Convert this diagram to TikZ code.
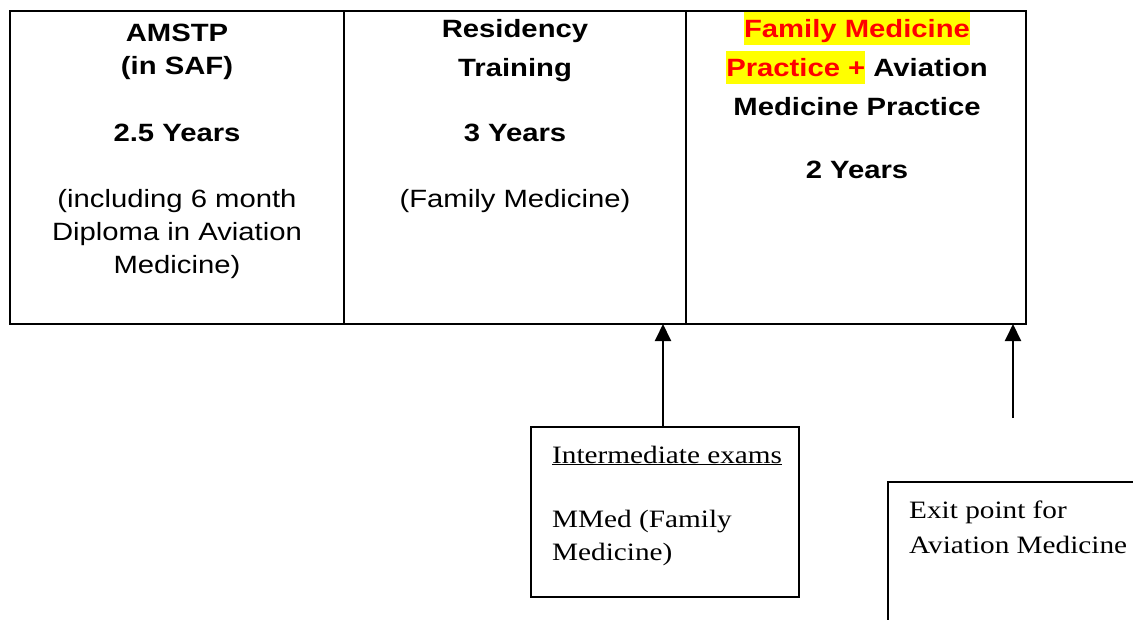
\documentclass[tikz,border=0pt]{standalone}
\usepackage{fontspec}
\setmainfont{Liberation Sans}[FakeStretch=1.17]
\newfontfamily\notefont{Liberation Serif}[FakeStretch=1.17]
\usetikzlibrary{arrows.meta}
\definecolor{hlyellow}{rgb}{1,1,0}
\definecolor{hlred}{rgb}{1,0,0}
\newlength{\du}
\setlength{\du}{1pt}
\newcommand{\hlmark}[1]{{\setlength{\fboxsep}{0pt}\colorbox{hlyellow}{\rule[-8\du]{0pt}{33\du}\textcolor{hlred}{#1}}}}
\tikzset{
  colbox/.style={draw, line width=2\du, minimum width=#1, minimum height=313\du, inner sep=0pt, outer sep=0pt, anchor=north west},
  notebox/.style={draw, line width=2\du, minimum width=#1, inner sep=0pt, outer sep=0pt, anchor=north west},
  headtext/.style={anchor=base, inner sep=0pt, align=center, font=\fontsize{25}{#1}\selectfont\bfseries},
  bodytext/.style={anchor=base, inner sep=0pt, align=center, font=\fontsize{25}{33}\selectfont},
  notetext/.style={anchor=base west, inner sep=0pt, align=left, font=\notefont\fontsize{25}{#1}\selectfont},
  uparrow/.style={-{Triangle[length=17pt,width=16pt]}, line width=2\du}
}

\begin{document}
\begin{tikzpicture}
\pgftransformyscale{-1.000000}
\useasboundingbox (0\du,0\du) rectangle (1133\du,619\du);
\clip (0\du,0\du) rectangle (1133\du,619\du);
% the three stages (text nodes sit on the baseline of their last line)
\node[colbox=334\du] (col1) at (10\du,11\du) {};
\node[colbox=342\du] (col2) at (344\du,11\du) {};
\node[colbox=340\du] (col3) at (686\du,11\du) {};
\node[headtext=33] (amstp) at (177\du,74\du) {AMSTP\\(in SAF)};
\node[headtext=33] (amstpyears) at (177\du,141\du) {2.5 Years};
\node[bodytext] (amstpnote) at (177\du,273\du) {(including 6 month\\Diploma in Aviation\\Medicine)};
\node[headtext=38.5] (residency) at (515\du,76\du) {Residency\\Training};
\node[headtext=33] (residencyyears) at (515\du,141\du) {3 Years};
\node[bodytext] (residencynote) at (515\du,207\du) {(Family Medicine)};
\node[headtext=39] (practice) at (857\du,115\du) {\hlmark{Family Medicine}\\\hlmark{Practice +} Aviation\\Medicine Practice};
\node[headtext=33] (practiceyears) at (857\du,178\du) {2 Years};
% exams and exit
\node[notebox=268\du, minimum height=170\du] (inter) at (531\du,427\du) {};
\node[notetext=33] (interhead) at (552\du,463\du) {\underline{Intermediate exams}};
\node[notetext=33] (intermmed) at (552\du,560\du) {MMed (Family\\Medicine)};
\node[notebox=300\du, minimum height=200\du] (exit) at (888\du,482\du) {};
\node[notetext=35] (exittext) at (909\du,553\du) {Exit point for\\Aviation Medicine};
\coordinate (interstem) at (663\du,427\du);
\coordinate (exitstem) at (1013\du,418\du);
\draw[uparrow] (interstem) -- (interstem |- col2.south);
\draw[uparrow] (exitstem) -- (exitstem |- col3.south);
\end{tikzpicture}
\end{document}
